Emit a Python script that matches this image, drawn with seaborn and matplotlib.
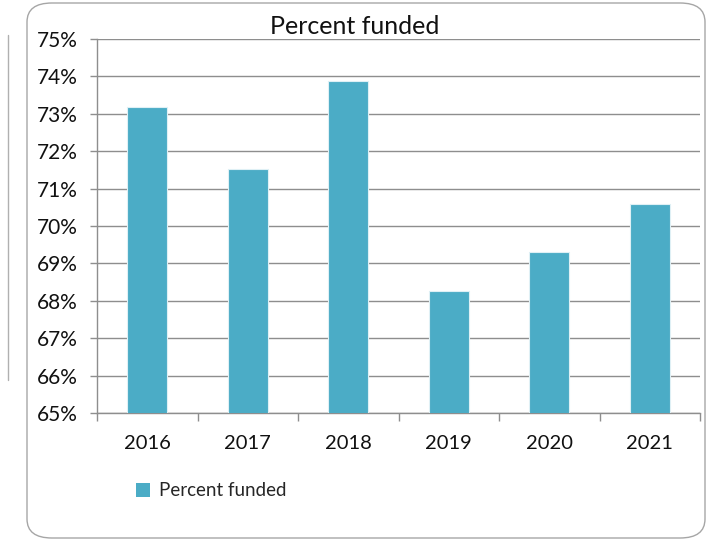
import matplotlib
matplotlib.use("Agg")
import matplotlib.pyplot as plt
from matplotlib.patches import FancyBboxPatch, Patch
from matplotlib.lines import Line2D
from matplotlib.ticker import FixedLocator, FuncFormatter
import seaborn as sns
import pandas as pd

years = ["2016", "2017", "2018", "2019", "2020", "2021"]
percent_funded = [73.17, 71.53, 73.88, 68.26, 69.30, 70.59]
y_ticks = [65, 66, 67, 68, 69, 70, 71, 72, 73, 74, 75]

sns.set_theme(style="white")
plt.rcParams["font.family"] = ["Lato", "DejaVu Sans"]

BAR = "#4BACC6"
GRID = "#8e8e8e"

df = pd.DataFrame({"year": years, "value": percent_funded})

fig = plt.figure(figsize=(7.12, 5.43), dpi=100)
ax = fig.add_axes([97 / 712, 1 - 413 / 543, (700 - 97) / 712, (413 - 39) / 543])

sns.barplot(data=df, x="year", y="value", color=BAR, width=0.4,
            edgecolor="#dff0f5", linewidth=0.8, saturation=1, ax=ax, zorder=3)

ax.set_ylim(65, 75)
ax.set_xlim(-0.5, len(years) - 0.5)
ax.yaxis.set_major_locator(FixedLocator(y_ticks))
ax.yaxis.set_major_formatter(FuncFormatter(lambda v, _: f"{v:.0f}%"))
ax.grid(axis="y", color=GRID, linewidth=1.0, zorder=0)
ax.grid(axis="x", visible=False)
ax.set_axisbelow(True)
ax.set_xlabel("")
ax.set_ylabel("")

for side in ["top", "right"]:
    ax.spines[side].set_visible(False)
for side in ["left", "bottom"]:
    ax.spines[side].set_color(GRID)
    ax.spines[side].set_linewidth(1.0)

ax.tick_params(axis="y", which="major", length=5, width=1, color=GRID,
               pad=9, labelsize=15, labelcolor="#111111", left=True)
ax.tick_params(axis="x", which="major", length=0, pad=16,
               labelsize=14.5, labelcolor="#111111")
ax.set_xticks([i - 0.5 for i in range(len(years) + 1)], minor=True)
ax.tick_params(axis="x", which="minor", length=6, width=1, color=GRID, bottom=True)

fig.text(355 / 712, 1 - 27 / 543, "Percent funded", ha="center", va="center",
         fontsize=18, color="#111111")

fig.legend(handles=[Patch(facecolor=BAR, edgecolor="none", label="Percent funded")],
           loc="center left", bbox_to_anchor=(119 / 712, 1 - 491 / 543),
           frameon=False, fontsize=13.5, handlelength=0.75, handleheight=0.75,
           handletextpad=0.5)

# rounded outer frame
frame = FancyBboxPatch((27 / 712, 5 / 543), (705 - 27) / 712, (540 - 5) / 543,
                       boxstyle="round,pad=0,rounding_size=0.035",
                       transform=fig.transFigure, facecolor="none",
                       edgecolor="#a6a6a6", linewidth=1.0, zorder=0)
fig.add_artist(frame)
fig.add_artist(Line2D([8 / 712, 8 / 712], [1 - 35 / 543, 1 - 380 / 543],
                      transform=fig.transFigure, color="#b0b0b0", linewidth=1.0))

fig.savefig("out.png", dpi=100)
